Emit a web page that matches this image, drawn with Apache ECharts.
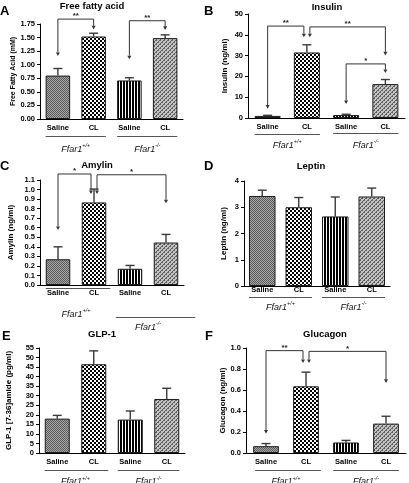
<!DOCTYPE html>
<html><head><meta charset="utf-8">
<script src="https://cdn.jsdelivr.net/npm/echarts@6/dist/echarts.min.js"></script>
<style>html,body{margin:0;padding:0;background:#fff}#c{width:409px;height:483px}</style>
</head><body><div id="c"></div>
<script>
// ---------- data ----------
const categories = ['Saline', 'CL', 'Saline', 'CL'];
const genotypes = ['+/+', '-/-'];           // Ffar1 superscripts
const groupMembers = [[0, 1], [2, 3]];      // category indices in each genotype group

const ffaMean = [0.80, 1.52, 0.71, 1.49];
const ffaSem  = [0.13, 0.06, 0.05, 0.06];
const insulinMean = [1.0, 31.5, 1.4, 16.3];
const insulinSem  = [0.3, 3.7, 0.4, 2.2];
const amylinMean = [0.27, 0.865, 0.17, 0.445];
const amylinSem  = [0.13, 0.14, 0.035, 0.085];
const leptinMean = [3.43, 3.0, 2.65, 3.41];
const leptinSem  = [0.22, 0.37, 0.74, 0.32];
const glp1Mean = [18.0, 46.5, 17.5, 28.3];
const glp1Sem  = [1.7, 7.0, 4.5, 5.6];
const glucagonMean = [0.065, 0.635, 0.10, 0.28];
const glucagonSem  = [0.025, 0.135, 0.02, 0.07];

// y-axis ticks: [min, max, step]
const ffaTicks = [0, 1.75, 0.25];
const insulinTicks = [0, 50, 10];
const amylinTicks = [0, 1.1, 0.1];
const leptinTicks = [0, 4, 1];
const glp1Ticks = [0, 55, 5];
const glucagonTicks = [0, 1.0, 0.2];

// significance brackets: [fromIdx, toIdx, bracketTop, fromArrowTip, toArrowTip, label]
const ffaBrackets = [[0, 1, 1.84, 1.16, 1.65, '**'], [2, 3, 1.81, 1.10, 1.64, '**']];
const insulinBrackets = [[0, 1, 44.2, 4.5, 38.8, '**'], [1, 3, 43.8, 38.8, 30.1, '**'], [2, 3, 26.0, 6.7, 21.6, '*']];
const amylinBrackets = [[0, 1, 1.163, 0.576, 0.953, '*'], [1, 3, 1.155, 0.953, 0.856, '*']];
const leptinBrackets = [];
const glp1Brackets = [];
const glucagonBrackets = [[0, 1, 0.975, 0.184, 0.857, '**'], [1, 3, 0.968, 0.857, 0.667, '*']];

// ---------- styling ----------
const FONT = '"Liberation Sans", Arial, sans-serif';
function tile(w, h, draw) { const c = document.createElement('canvas'); c.width = w; c.height = h; draw(c.getContext('2d')); return c; }
const patterns = [
  tile(2, 2, g => { g.fillStyle = '#a8a8a8'; g.fillRect(0, 0, 2, 2); g.fillStyle = '#5a5a5a'; g.fillRect(0, 0, 1, 1); g.fillRect(1, 1, 1, 1); }),
  tile(4, 4, g => { g.fillStyle = '#fff'; g.fillRect(0, 0, 4, 4); g.fillStyle = '#000'; g.fillRect(0, 0, 2, 2); g.fillRect(2, 2, 2, 2); }),
  tile(3, 1, g => { g.fillStyle = '#000'; g.fillRect(0, 0, 3, 1); g.fillStyle = '#fff'; g.fillRect(2, 0, 1, 1); }),
  tile(4, 4, g => { g.fillStyle = '#c4c4c4'; g.fillRect(0, 0, 4, 4); g.fillStyle = '#5e5e5e';
    for (let y = 0; y < 4; y++) for (let x = 0; x < 4; x++) if ((x + y) % 4 === 3 || (x + y) % 4 === 0 && (x % 2 === 0)) g.fillRect(x, y, 1, 1); })
];

const panels = [
  { letter: 'A', title: 'Free fatty acid', yName: 'Free Fatty Acid (mM)', mean: ffaMean, sem: ffaSem, ticks: ffaTicks, dec: 2, brackets: ffaBrackets,
    grid: { left: 40, top: 24, width: 143, height: 95 }, barW: 24.5, nameGap: 23, nameSize: 7, labelMargin: 4.5,
    letterPos: [0, 11], titlePos: [92, 6], lineDy: [17, 17], labelDy: [29, 29], ext: [[0, 0], [0, 0]] },
  { letter: 'B', title: 'Insulin', yName: 'Insulin (ng/ml)', mean: insulinMean, sem: insulinSem, ticks: insulinTicks, dec: 0, brackets: insulinBrackets,
    grid: { left: 248, top: 14, width: 157, height: 104 }, barW: 26, nameGap: 19, nameSize: 8, labelMargin: 4.5,
    letterPos: [204, 11], titlePos: [327, 7], lineDy: [16, 15], labelDy: [26, 26], ext: [[0, 0], [0, 0]] },
  { letter: 'C', title: 'Amylin', yName: 'Amylin (ng/ml)', mean: amylinMean, sem: amylinSem, ticks: amylinTicks, dec: 1, brackets: amylinBrackets,
    grid: { left: 40, top: 180, width: 144, height: 105 }, barW: 24.5, nameGap: 25, nameSize: 8, labelMargin: 4,
    letterPos: [0, 166], titlePos: [97, 165], lineDy: [3, 32], labelDy: [28, 41], ext: [[0, 4], [-2, 17]] },
  { letter: 'D', title: 'Leptin', yName: 'Leptin (ng/ml)', mean: leptinMean, sem: leptinSem, ticks: leptinTicks, dec: 0, brackets: leptinBrackets,
    grid: { left: 244, top: 181, width: 146, height: 105 }, barW: 26.5, nameGap: 16, nameSize: 8, labelMargin: 0,
    letterPos: [204, 166], titlePos: [311, 166], lineDy: [11, 11], labelDy: [20, 20], ext: [[0, 0], [0, 0]] },
  { letter: 'E', title: 'GLP-1', yName: 'GLP-1 [7-36]amide (pg/ml)', mean: glp1Mean, sem: glp1Sem, ticks: glp1Ticks, dec: 0, brackets: glp1Brackets,
    grid: { left: 39, top: 348, width: 146, height: 105 }, barW: 25, nameGap: 26, nameSize: 8, labelMargin: 4.5,
    letterPos: [2, 336], titlePos: [102, 334], lineDy: [17, 17], labelDy: [27.5, 27.5], ext: [[0, 2], [0, 0]] },
  { letter: 'F', title: 'Glucagon', yName: 'Glucagon (ng/ml)', mean: glucagonMean, sem: glucagonSem, ticks: glucagonTicks, dec: 1, brackets: glucagonBrackets,
    grid: { left: 246, top: 348, width: 160, height: 105 }, barW: 25.7, nameGap: 18, nameSize: 8, labelMargin: 4.5,
    letterPos: [205, 336], titlePos: [325, 334], lineDy: [17, 17], labelDy: [27.5, 27.5], ext: [[2, 2], [0, 0]] }
];

const series = [];
const graphic = [];
panels.forEach((p, gi) => {
  // bars
  series.push({
    type: 'bar', xAxisIndex: gi, yAxisIndex: gi, barWidth: p.barW, z: 2, silent: true,
    data: p.mean.map((v, i) => ({ value: v, itemStyle: { color: { image: patterns[i], repeat: 'repeat' }, borderColor: '#1a1a1a', borderWidth: 1 } }))
  });
  // error bars (mean + SEM)
  series.push({
    type: 'custom', xAxisIndex: gi, yAxisIndex: gi, z: 3, silent: true,
    data: p.mean.map((m, i) => [i, m, m + p.sem[i]]),
    encode: { x: 0, y: [1, 2] },
    renderItem(params, api) {
      const i = api.value(0);
      const a = api.coord([i, api.value(1)]);
      const b = api.coord([i, api.value(2)]);
      const hw = 4.5;
      const st = { stroke: '#3a3a3a', lineWidth: 1.4 };
      return { type: 'group', children: [
        { type: 'line', shape: { x1: a[0], y1: a[1], x2: b[0], y2: b[1] }, style: st },
        { type: 'line', shape: { x1: b[0] - hw, y1: b[1], x2: b[0] + hw, y2: b[1] }, style: st }
      ] };
    }
  });
  // significance brackets
  if (p.brackets.length) {
    const br = p.brackets;
    series.push({
      type: 'custom', xAxisIndex: gi, yAxisIndex: gi, z: 6, silent: true, clip: false,
      data: br.map(b => [b[0], b[2]]),
      renderItem(params, api) {
        const b = br[params.dataIndex];
        const shiftFrom = br.some(o => o !== b && o[1] === b[0]) ? 3 : 0;
        const shiftTo = br.some(o => o !== b && o[0] === b[1]) ? -3 : 0;
        const x1 = api.coord([b[0], 0])[0] + shiftFrom;
        const x2 = api.coord([b[1], 0])[0] + shiftTo;
        const yt = api.coord([b[0], b[2]])[1];
        const y1 = api.coord([b[0], b[3]])[1];
        const y2 = api.coord([b[1], b[4]])[1];
        const ah = 3.6, aw = 2;
        const col = '#333';
        return { type: 'group', children: [
          { type: 'polyline', shape: { points: [[x1, y1 - ah], [x1, yt], [x2, yt], [x2, y2 - ah]] }, style: { stroke: col, lineWidth: 1, fill: null } },
          { type: 'polygon', shape: { points: [[x1 - aw, y1 - ah], [x1 + aw, y1 - ah], [x1, y1]] }, style: { fill: col } },
          { type: 'polygon', shape: { points: [[x2 - aw, y2 - ah], [x2 + aw, y2 - ah], [x2, y2]] }, style: { fill: col } },
          { type: 'text', x: (x1 + x2) / 2, y: yt + 1, style: { text: b[5], font: 'bold 8px ' + FONT, fill: '#222', align: 'center', verticalAlign: 'bottom' } }
        ] };
      }
    });
  }
  // genotype group underline + label
  series.push({
    type: 'custom', xAxisIndex: gi, yAxisIndex: gi, z: 6, silent: true, clip: false,
    data: groupMembers.map(g => [g[0], g[1]]),
    renderItem(params, api) {
      const k = params.dataIndex;
      const g = groupMembers[k];
      const half = p.barW / 2;
      const pa = api.coord([g[0], 0]);
      const pb = api.coord([g[1], 0]);
      const xa = pa[0] - half + p.ext[k][0];
      const xb = pb[0] + half + p.ext[k][1];
      const y0 = pa[1];
      const yl = Math.round(y0 + p.lineDy[k]) + 0.5;
      return { type: 'group', children: [
        { type: 'line', shape: { x1: xa, y1: yl, x2: xb, y2: yl }, style: { stroke: '#555', lineWidth: 1 } },
        { type: 'text', x: (pa[0] + pb[0]) / 2, y: y0 + p.labelDy[k], style: {
            text: '{f|Ffar1}{s|' + genotypes[k] + '}', align: 'center', verticalAlign: 'middle',
            rich: { f: { font: 'italic 9px ' + FONT, fill: '#111', lineHeight: 11, verticalAlign: 'bottom' },
                    s: { font: 'italic 5.5px ' + FONT, fill: '#111', lineHeight: 11, verticalAlign: 'top' } } } }
      ] };
    }
  });
  graphic.push({ type: 'text', x: p.letterPos[0], y: p.letterPos[1], style: { text: p.letter, font: 'bold 13px ' + FONT, fill: '#000', verticalAlign: 'middle' } });
  graphic.push({ type: 'text', x: p.titlePos[0], y: p.titlePos[1], style: { text: p.title, font: 'bold 9.5px ' + FONT, fill: '#000', align: 'center', verticalAlign: 'middle' } });
});

const chart = echarts.init(document.getElementById('c'), null, { renderer: 'canvas' });
chart.setOption({
  animation: false,
  backgroundColor: '#fff',
  grid: panels.map(p => Object.assign({ containLabel: false }, p.grid)),
  xAxis: panels.map((p, gi) => ({
    type: 'category', gridIndex: gi, data: categories,
    axisLine: { lineStyle: { color: '#000', width: 1 } }, axisTick: { show: false },
    axisLabel: { interval: 0, margin: p.labelMargin, color: '#000', fontWeight: 'bold', fontSize: 7.5, fontFamily: FONT }
  })),
  yAxis: panels.map((p, gi) => ({
    type: 'value', gridIndex: gi, min: p.ticks[0], max: p.ticks[1], interval: p.ticks[2],
    name: p.yName, nameLocation: 'middle', nameRotate: 90, nameGap: p.nameGap,
    nameTextStyle: { color: '#000', fontWeight: 'bold', fontSize: p.nameSize, fontFamily: FONT },
    axisLine: { show: true, lineStyle: { color: '#000', width: 1 } },
    axisTick: { show: true, length: 3, lineStyle: { color: '#000' } },
    splitLine: { show: false },
    axisLabel: { margin: 5, color: '#000', fontWeight: 'bold', fontSize: 7.5, fontFamily: FONT,
      formatter: v => v.toFixed(p.dec) }
  })),
  series,
  graphic
});
</script></body></html>
